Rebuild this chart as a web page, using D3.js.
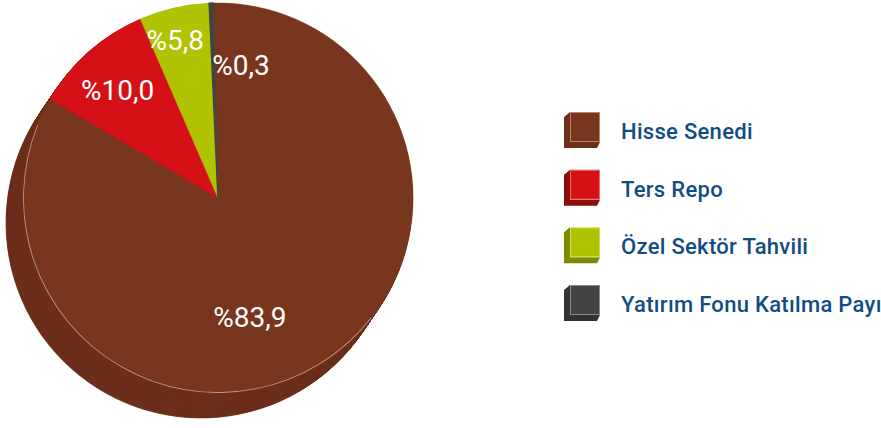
<!DOCTYPE html>
<html>
<head>
<meta charset="utf-8">
<script src="https://cdn.jsdelivr.net/npm/d3@7"></script>
<style>
  html, body { margin: 0; padding: 0; background: #ffffff; overflow: hidden; }
  svg { display: block; }
</style>
</head>
<body>
<svg id="chart" width="881" height="428"></svg>
<script>
// Portfolio breakdown (percent of total)
const categories = ["Hisse Senedi", "Ters Repo", "Özel Sektör Tahvili", "Yatırım Fonu Katılma Payı"];
const shares = [83.9, 10.0, 5.8, 0.3];
const valueLabels = ["%83,9", "%10,0", "%5,8", "%0,3"];

// Colours: face, extruded side, legend outline
const faceColors = ["#78361e", "#d51016", "#b1c200", "#444444"];
const sideColors = ["#6c2f1b", "#8e0c08", "#7d8a00", "#333333"];
const edgeColors = ["#b88070", "#e86a64", "#d0dc60", "#8a8a8a"];

// Label placement relative to each slice's mid angle (degrees, fraction of radius)
const labelShift = [15.5, -1.4, -2.1, 11.9];
const labelRadius = [0.633, 0.756, 0.84, 0.692];

const W = 881, H = 428;
const cx = 218, cy = 198, R = 195;
const depthX = -17, depthY = 25;
const deg = Math.PI / 180;
const start = -1.5 * deg;

const svg = d3.select("#chart");

const pie = d3.pie()
  .sort(null)
  .value(d => d)
  .startAngle(start)
  .endAngle(start + 2 * Math.PI);
const slices = pie(shares);

const arc = d3.arc().innerRadius(0).outerRadius(R);

// Extruded side: stacked copies of each slice pushed down-left
const sideLayer = svg.append("g").attr("class", "side");
const steps = 50;
for (let s = steps; s >= 1; s--) {
  const t = s / steps;
  sideLayer.append("g")
    .attr("transform", `translate(${cx + depthX * t},${cy + depthY * t})`)
    .selectAll("path")
    .data(slices)
    .join("path")
    .attr("d", arc)
    .attr("fill", (d, i) => sideColors[i])
    .attr("stroke", (d, i) => sideColors[i])
    .attr("stroke-width", 0.6);
}

// Top face
const faceLayer = svg.append("g").attr("transform", `translate(${cx},${cy})`);
faceLayer.selectAll("path.face")
  .data(slices)
  .join("path")
  .attr("class", "face")
  .attr("d", arc)
  .attr("fill", (d, i) => faceColors[i])
  .attr("stroke", (d, i) => faceColors[i])
  .attr("stroke-width", (d, i) => i === 3 ? 1.6 : 0.5);

// Thin highlight where the top face meets the side
faceLayer.append("path")
  .attr("d", d3.arc()
    .innerRadius(R - 0.9)
    .outerRadius(R - 0.1)
    .startAngle(128 * deg)
    .endAngle(292 * deg)())
  .attr("fill", "rgba(255,235,225,0.55)");

// Value labels
faceLayer.selectAll("text.value")
  .data(slices)
  .join("text")
  .attr("class", "value")
  .attr("x", (d, i) => {
    const a = (d.startAngle + d.endAngle) / 2 + labelShift[i] * deg;
    return Math.sin(a) * R * labelRadius[i];
  })
  .attr("y", (d, i) => {
    const a = (d.startAngle + d.endAngle) / 2 + labelShift[i] * deg;
    return -Math.cos(a) * R * labelRadius[i];
  })
  .attr("dy", "0.36em")
  .attr("text-anchor", "middle")
  .attr("fill", "#ffffff")
  .style("font-family", "Roboto, 'DejaVu Sans', sans-serif")
  .style("font-size", "28px")
  .text((d, i) => valueLabels[i]);

// Legend with small cube swatches
const legendY = d3.scaleLinear().domain([0, categories.length - 1]).range([112, 285]);
const box = 30, dep = 6;
const legend = svg.append("g").attr("class", "legend");
const item = legend.selectAll("g.item")
  .data(categories)
  .join("g")
  .attr("class", "item")
  .attr("transform", (d, i) => `translate(570,${legendY(i)})`);

item.append("path")
  .attr("d", `M0,0 L${-dep},${dep - 1} L${-dep},${box + dep} L${box - 3},${box + dep} L${box},${box} L0,${box} Z`)
  .attr("fill", (d, i) => sideColors[i]);
item.append("rect")
  .attr("x", 0.5).attr("y", 0.5)
  .attr("width", box - 1).attr("height", box - 1)
  .attr("fill", (d, i) => faceColors[i])
  .attr("stroke", (d, i) => edgeColors[i])
  .attr("stroke-width", 1);

item.append("text")
  .attr("x", 51)
  .attr("y", 27)
  .attr("fill", "#114c85")
  .style("font-family", "Roboto, 'DejaVu Sans', sans-serif")
  .style("font-size", "22px")
  .style("font-weight", 500)
  .style("letter-spacing", "0.3px")
  .text(d => d);
</script>
</body>
</html>
